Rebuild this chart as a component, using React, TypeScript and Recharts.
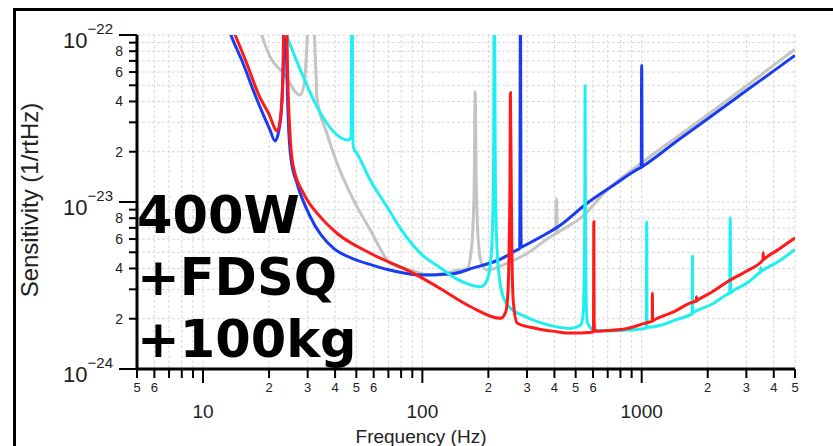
import { LineChart, Line, XAxis, YAxis, CartesianGrid } from 'recharts'

// frequency ticks (Hz) and sensitivity ticks (units of 1e-24 /rtHz)
const xTicks = [5, 6, 7, 8, 9, 10, 20, 30, 40, 50, 60, 70, 80, 90, 100, 200, 300, 400, 500, 600, 700, 800, 900, 1000, 2000, 3000, 4000, 5000]
const xDecades = [10, 100, 1000]
const xLabeled = [5, 6, 20, 30, 40, 50, 60, 200, 300, 400, 500, 600, 2000, 3000, 4000, 5000]
const yTicks = [1, 2, 3, 4, 5, 6, 7, 8, 9, 10, 20, 30, 40, 50, 60, 70, 80, 90, 100]
const yDecades = [1, 10, 100]
const yExponents = ['−24', '−23', '−22']
const yLabeled = [2, 4, 6, 8, 20, 40, 60, 80]

const grayF = [18.2, 20.2, 23.3, 27.7, 29.0, 29.9, 30.8, 31.4, 32.2, 32.8, 33.0, 36.7, 40.8, 48.5, 57.9, 71.4, 88.1, 109, 149, 160, 166, 170, 172.5, 174, 176, 179, 186, 197, 244, 301, 384, 400, 405, 409, 413, 420, 526, 700, 989, 2000, 3000, 4000, 5000]
const grayV = [107, 74.1, 59, 43.7, 52, 100, 300, 300, 100, 55, 42.7, 25.8, 17.1, 10.3, 6.8, 4.3, 3.92, 3.65, 3.92, 3.97, 4.8, 7, 14, 45.6, 14, 6.5, 4.3, 3.92, 4.3, 4.93, 6.2, 6.4, 6.45, 10.5, 6.55, 6.65, 8.0, 11.9, 17.0, 33.3, 49.5, 66, 82]

const blueF = [12.5, 13.4, 15.2, 17.4, 20.2, 21.3, 22.2, 22.9, 23.3, 23.6, 24.0, 24.5, 25.2, 26.8, 30.8, 39.5, 46, 58.5, 75, 101, 134, 171, 227, 272, 278, 280, 282, 290, 346, 427, 556, 750, 985, 995, 1000, 1005, 1012, 1500, 2000, 3000, 4000, 5000]
const blueV = [130, 100, 68, 42.7, 27.0, 23.2, 27, 40, 80, 300, 80, 30, 18, 13.0, 8.17, 5.25, 4.7, 4.2, 3.85, 3.65, 3.7, 4.03, 4.55, 5.18, 5.25, 150, 5.35, 5.45, 6.17, 7.28, 9.7, 12.7, 16.0, 16.1, 66, 16.25, 16.35, 24, 31.5, 46.5, 61, 75.5]

const cyanF = [23.7, 46.0, 47.3, 47.8, 48.2, 48.6, 50.3, 57.9, 69, 82.2, 97.9, 122, 144, 184, 195, 203, 208, 211, 213, 215, 218, 224, 235, 252, 290, 334, 400, 474, 526, 540, 547, 550, 552, 554, 557, 565, 605, 720, 861, 1025, 1050, 1054, 1058, 1222, 1450, 1690, 1700, 1705, 1710, 1720, 2100, 2500, 2520, 2532, 2545, 2560, 3000, 3460, 3480, 3490, 3500, 3520, 4200, 5000]
const cyanV = [104, 23.5, 24.5, 300, 24, 21, 19.6, 13.5, 9.37, 6.5, 4.93, 4.0, 3.45, 3.11, 3.3, 4, 6, 15, 300, 15, 6, 3.6, 2.65, 2.32, 2.08, 1.92, 1.8, 1.75, 1.83, 2.1, 3.5, 8, 49.5, 8, 3.0, 1.9, 1.71, 1.69, 1.71, 1.75, 1.76, 7.62, 1.78, 1.83, 1.98, 2.13, 2.14, 4.75, 2.17, 2.18, 2.45, 2.83, 2.84, 8.05, 2.86, 2.88, 3.25, 3.78, 3.8, 4.06, 3.84, 3.86, 4.4, 5.2]

const redF = [12.8, 14.0, 15.8, 18.1, 19.9, 21.8, 22.6, 23.1, 23.5, 23.9, 24.3, 24.9, 25.8, 28.7, 34.2, 40.8, 57.9, 91.2, 117, 166, 227, 240, 246, 249, 251, 252, 254, 256, 260, 271, 330, 400, 474, 595, 600, 603, 605, 607, 612, 700, 861, 1099, 1110, 1117, 1119, 1121, 1135, 1400, 1733, 1765, 1775, 1778, 1781, 1795, 2100, 2460, 3000, 3560, 3575, 3581, 3587, 3600, 4200, 5000]
const redV = [130, 100, 68, 42.7, 34.0, 26.6, 33, 55, 200, 200, 60, 25.9, 16.3, 11.3, 8.17, 6.5, 4.93, 3.74, 3.11, 2.36, 2.01, 2.2, 3, 6, 15, 45.1, 15, 5, 2.5, 1.88, 1.75, 1.68, 1.64, 1.66, 1.67, 1.9, 7.62, 1.9, 1.68, 1.7, 1.75, 1.92, 1.925, 1.93, 2.84, 1.94, 1.96, 2.2, 2.53, 2.54, 2.55, 2.71, 2.56, 2.58, 2.9, 3.33, 3.85, 4.47, 4.5, 4.97, 4.51, 4.53, 5.2, 6.1]

const zip = (f: number[], v: number[]) => f.map((x, i) => ({ f: x, v: v[i] }))

const AXIS_X = 137
const AXIS_Y = 369
const FONT = '"Liberation Sans Narrow", "Liberation Sans", Roboto, sans-serif'

function mantissa(v: number) {
  return Math.round(v / Math.pow(10, Math.floor(Math.log10(v) + 1e-9)))
}

function XTick(props: any) {
  const { x, payload } = props
  const v = payload.value
  const major = xDecades.includes(v)
  return (
    <g>
      <line x1={x} x2={x} y1={AXIS_Y} y2={AXIS_Y + (major ? 14 : 9)} stroke="#000" strokeWidth={2} />
      {xLabeled.includes(v) && (
        <text x={x} y={AXIS_Y + 23} textAnchor="middle" fontSize={13} fontFamily={FONT} fill="#222">
          {mantissa(v)}
        </text>
      )}
      {major && (
        <text x={x} y={AXIS_Y + 49} textAnchor="middle" fontSize={19} fontFamily={FONT} fill="#222">
          {v}
        </text>
      )}
    </g>
  )
}

function YTick(props: any) {
  const { y, payload } = props
  const v = payload.value
  const di = yDecades.indexOf(v)
  const major = di >= 0
  return (
    <g>
      <line x1={AXIS_X} x2={AXIS_X - (major ? 18 : 8)} y1={y} y2={y} stroke="#000" strokeWidth={2} />
      {yLabeled.includes(v) && (
        <text x={AXIS_X - 14} y={y + 5} textAnchor="end" fontSize={14} fontFamily={FONT} fill="#222">
          {mantissa(v)}
        </text>
      )}
      {major && (
        <text x={AXIS_X - 24} y={y + 13} textAnchor="end" fontFamily={FONT} fill="#222">
          <tspan fontSize={22}>10</tspan>
          <tspan fontSize={15} dy={-14}>{yExponents[di]}</tspan>
        </text>
      )}
    </g>
  )
}

export default function App() {
  return (
    <div style={{ position: 'absolute', left: 0, top: 0, width: 833, height: 446, background: '#fff', overflow: 'hidden' }}>
      <div style={{ position: 'absolute', left: 13, top: 8, width: 840, height: 460, borderTop: '3px solid #000', borderLeft: '3px solid #000' }} />
      <div style={{ position: 'absolute', left: 0, top: 0 }}>
        <LineChart width={833} height={446} margin={{ top: 35, right: 38, bottom: 0, left: 0 }}>
          <CartesianGrid stroke="#d8d8d8" strokeDasharray="3 2" />
          <XAxis
            dataKey="f"
            type="number"
            scale="log"
            domain={[5, 5000]}
            ticks={xTicks}
            interval={0}
            allowDataOverflow
            height={77}
            tickLine={false}
            axisLine={{ stroke: '#000', strokeWidth: 3 }}
            tick={<XTick />}
          />
          <YAxis
            type="number"
            scale="log"
            domain={[1, 100]}
            ticks={yTicks}
            interval={0}
            allowDataOverflow
            width={137}
            tickLine={false}
            axisLine={{ stroke: '#000', strokeWidth: 3 }}
            tick={<YTick />}
          />
          <Line type="monotoneX" data={zip(grayF, grayV)} dataKey="v" stroke="#c4c4c4" strokeWidth={3} dot={false} isAnimationActive={false} />
          <Line type="monotoneX" data={zip(blueF, blueV)} dataKey="v" stroke="#1a3cf0" strokeWidth={3} dot={false} isAnimationActive={false} />
          <Line type="monotoneX" data={zip(cyanF, cyanV)} dataKey="v" stroke="#1ef0f0" strokeWidth={3} dot={false} isAnimationActive={false} />
          <Line type="monotoneX" data={zip(redF, redV)} dataKey="v" stroke="#ff1a1a" strokeWidth={3} dot={false} isAnimationActive={false} />
        </LineChart>
      </div>
      <svg width={833} height={446} style={{ position: 'absolute', left: 0, top: 0, pointerEvents: 'none' }}>
        <text
          transform="translate(38,200) rotate(-90)"
          textAnchor="middle"
          fontSize={24}
          fontFamily={FONT}
          fill="#222"
        >
          Sensitivity (1/rtHz)
        </text>
        <text x={421} y={443} textAnchor="middle" fontSize={19} fontFamily={FONT} fill="#222">
          Frequency (Hz)
        </text>
        <g fontFamily='"DejaVu Sans", Verdana, sans-serif' fontWeight="bold" fontSize={51} fill="#000">
          <text x={137} y={233}>400W</text>
          <text x={137} y={295}>+FDSQ</text>
          <text x={137} y={357}>+100kg</text>
        </g>
      </svg>
    </div>
  )
}
